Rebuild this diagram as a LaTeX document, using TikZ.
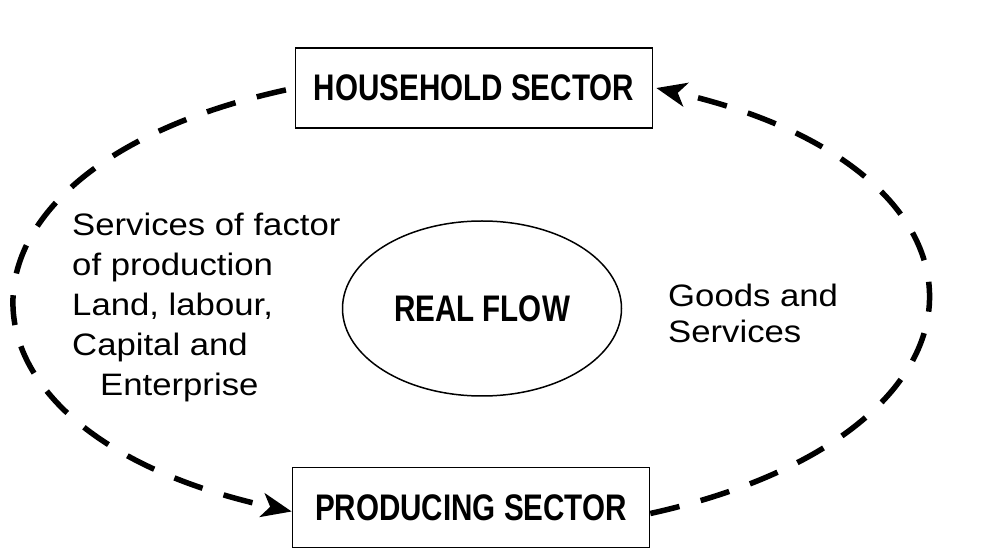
\documentclass[tikz,border=0pt]{standalone}
\usepackage{fontspec}
\setmainfont{Liberation Sans}
\newfontfamily\narrowfont[FakeStretch=0.8]{Liberation Sans}
\newfontfamily\widefont[FakeStretch=1.12]{Liberation Sans}
\usetikzlibrary{shapes.geometric,arrows.meta}
\begin{document}
\begin{tikzpicture}[x=1pt,y=1pt,
	sector/.style={draw,line width=1.6pt,minimum width=357pt,minimum height=80pt,inner sep=0pt,font=\narrowfont\bfseries\fontsize{37}{40}\selectfont},
	flowloop/.style={line width=5.5pt,dash pattern=on 30pt off 22pt,-{Stealth[length=30pt,width=24pt,inset=8pt]}},
	caption/.style={align=left,inner sep=0pt,anchor=north west,font=\widefont\fontsize{31}{40}\selectfont}]
		\useasboundingbox (0,0) rectangle (982,557);
		\foreach \Name/\X/\Y/\Text in {hh/474/469/HOUSEHOLD SECTOR,ps/471/49.5/PRODUCING SECTOR}
		\node[sector] (\Name) at (\X,\Y) {\Text} ;
		\node[ellipse,draw,line width=1.5pt,minimum width=279pt,minimum height=175pt,inner sep=0pt,font=\narrowfont\bfseries\fontsize{37}{40}\selectfont] (real) at (482,248.5) {REAL FLOW};
		\node[caption] (factors) at (72,344) {Services of factor\\of production\\Land, labour,\\Capital and\\\hspace{28pt}Enterprise};
		\node[caption,font=\widefont\fontsize{31}{36}\selectfont] (goods) at (668,273) {Goods and\\Services};
		\draw[flowloop,shorten <=9pt] (hh.west) .. controls (-76,388) and (-75.5,125) .. ([yshift=-4pt]ps.west);
		\draw[flowloop] ([yshift=-6pt]ps.east) .. controls (1017.5,125) and (1019,387) .. ([xshift=3pt]hh.east);
	\end{tikzpicture}
\end{document}
